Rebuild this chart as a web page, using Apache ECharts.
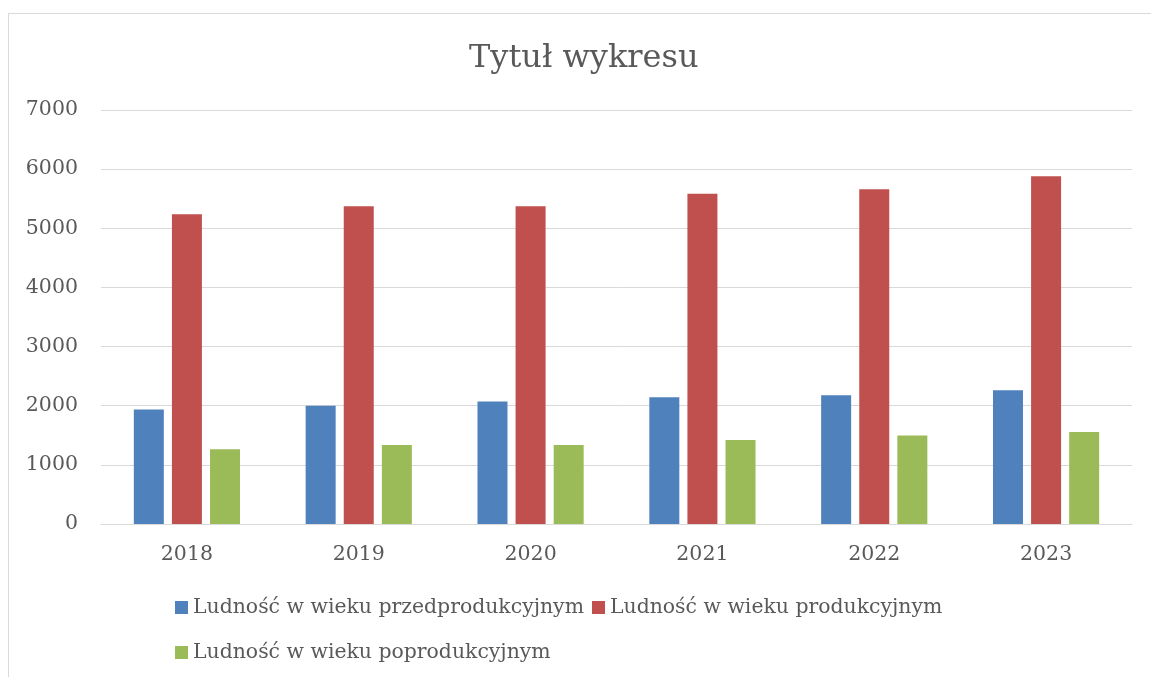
<!DOCTYPE html>
<html>
<head>
<meta charset="utf-8">
<script src="https://cdn.jsdelivr.net/npm/echarts@6/dist/echarts.min.js"></script>
<style>
  html, body { margin: 0; padding: 0; background: #fff; }
  #frame { position: absolute; left: 8px; top: 13px; right: 0; bottom: 0;
           border-left: 1px solid #d9d9d9; border-top: 1px solid #d9d9d9; }
  #main { position: absolute; left: 0; top: 0; width: 1151px; height: 677px; }
</style>
</head>
<body>
<div id="frame"></div>
<div id="main"></div>
<script>
const years = ['2018', '2019', '2020', '2021', '2022', '2023']
// wartości
const przedprodukcyjny = [1937, 1998, 2073, 2145, 2179, 2263]
const produkcyjny = [5236, 5372, 5372, 5586, 5659, 5878]
const poprodukcyjny = [1262, 1334, 1334, 1419, 1498, 1554]
const yTicks = [0, 7000, 1000] // min, max, krok

const font = 'DejaVu Serif'
const textColor = '#595959'

let myChart = echarts.init(document.getElementById('main'))

function bar(name, data, color) {
  return {
    name: name,
    type: 'bar',
    data: data,
    barWidth: 30,
    barGap: '27%',
    itemStyle: { color: color }
  }
}

myChart.setOption({
  animation: false,
  title: {
    text: 'Tytuł wykresu',
    left: 469,
    top: 43,
    padding: 0,
    textStyle: { fontFamily: font, fontSize: 32, fontWeight: 'normal', color: textColor }
  },
  grid: { left: 101, right: 19, top: 110, bottom: 153 },
  legend: {
    left: 175,
    top: 589,
    padding: 0,
    width: 800,
    itemWidth: 13,
    itemHeight: 13,
    itemGap: 8,
    icon: 'rect',
    textStyle: { fontFamily: font, fontSize: 20.4, lineHeight: 37, color: textColor },
    data: ['Ludność w wieku przedprodukcyjnym', 'Ludność w wieku produkcyjnym', 'Ludność w wieku poprodukcyjnym']
  },
  xAxis: {
    type: 'category',
    data: years,
    axisLine: { lineStyle: { color: '#d9d9d9' } },
    axisTick: { show: false },
    axisLabel: { fontFamily: font, fontSize: 20.5, color: textColor, margin: 20 }
  },
  yAxis: {
    type: 'value',
    min: yTicks[0],
    max: yTicks[1],
    interval: yTicks[2],
    axisLine: { show: false },
    axisTick: { show: false },
    splitLine: { lineStyle: { color: '#d9d9d9', width: 1 } },
    axisLabel: { fontFamily: font, fontSize: 20.5, color: textColor, margin: 23, formatter: v => String(v) }
  },
  series: [
    bar('Ludność w wieku przedprodukcyjnym', przedprodukcyjny, '#4f81bd'),
    bar('Ludność w wieku produkcyjnym', produkcyjny, '#c0504d'),
    bar('Ludność w wieku poprodukcyjnym', poprodukcyjny, '#9bbb59')
  ]
})
</script>
</body>
</html>
